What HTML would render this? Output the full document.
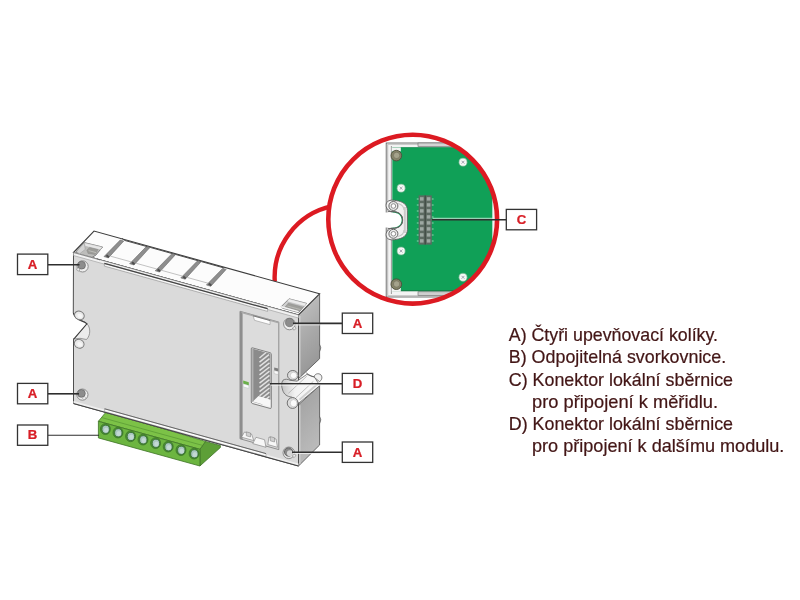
<!DOCTYPE html>
<html><head><meta charset="utf-8">
<style>
html,body{margin:0;padding:0;background:#fff;}
body{width:800px;height:600px;overflow:hidden;position:relative;font-family:"Liberation Sans",sans-serif;}
svg{position:absolute;left:0;top:0;filter:blur(0.4px);}
text{font-family:"Liberation Sans",sans-serif;}
</style></head><body>
<svg width="800" height="600" viewBox="0 0 800 600">
<defs>
<linearGradient id="side" x1="0" y1="0" x2="1" y2="0">
<stop offset="0" stop-color="#b9b9b9"/><stop offset="1" stop-color="#a6a6a6"/>
</linearGradient>
<clipPath id="cc"><circle cx="412.7" cy="219.2" r="83"/></clipPath>
<linearGradient id="sideU" x1="0" y1="0" x2="0.25" y2="1"><stop offset="0" stop-color="#c6c6c6"/><stop offset="0.5" stop-color="#acacac"/><stop offset="1" stop-color="#979797"/></linearGradient>
<linearGradient id="sideL" x1="0" y1="0" x2="0.3" y2="1"><stop offset="0" stop-color="#9f9f9f"/><stop offset="1" stop-color="#bcbcbc"/></linearGradient>
<linearGradient id="cyl" x1="0" y1="0" x2="1" y2="0"><stop offset="0" stop-color="#c4c4c4"/><stop offset="0.35" stop-color="#f2f2f2"/><stop offset="1" stop-color="#fbfbfb"/></linearGradient>
</defs>
<rect width="800" height="600" fill="#fff"/>

<!-- red connector arc -->
<path d="M274.75,281.6 A72.9,72.9 0 0 1 332,206.2" fill="none" stroke="#dc1a22" stroke-width="4.4"/>

<!-- GREEN TERMINAL BLOCK -->
<g stroke="#3f7427" stroke-width="0.8" stroke-linejoin="round">
<polygon points="199.9,466 220.4,447.5 220.4,445.5 205.5,441.4 199.9,449.3" fill="#5d9f37"/>
<polygon points="104.9,411 104.9,413.4 98.4,421.3 199.9,449.3 205.5,441.4" fill="#7cc247"/>
<polygon points="98.4,421.3 199.9,449.3 199.9,466 98.4,437.9" fill="#6cb540"/>
</g>
<path d="M101.5,417.5 L202.5,445.4" stroke="#5a9a35" stroke-width="0.8" fill="none"/>
<g id="holes">
<ellipse cx="105.4" cy="429.1" rx="5" ry="5.4" fill="#4f9436" stroke="#3a6f26" stroke-width="0.7"/>
<ellipse cx="105.7" cy="429.3" rx="3.7" ry="4.1" fill="#a9c6c0" stroke="#2f6a2a" stroke-width="0.8"/>
<ellipse cx="106.2" cy="429.9" rx="2.2" ry="2.5" fill="#c3d8d4"/>
<ellipse cx="118.0" cy="432.6" rx="5" ry="5.4" fill="#4f9436" stroke="#3a6f26" stroke-width="0.7"/>
<ellipse cx="118.3" cy="432.8" rx="3.7" ry="4.1" fill="#a9c6c0" stroke="#2f6a2a" stroke-width="0.8"/>
<ellipse cx="118.8" cy="433.4" rx="2.2" ry="2.5" fill="#c3d8d4"/>
<ellipse cx="130.6" cy="436.3" rx="5" ry="5.4" fill="#4f9436" stroke="#3a6f26" stroke-width="0.7"/>
<ellipse cx="130.9" cy="436.5" rx="3.7" ry="4.1" fill="#a9c6c0" stroke="#2f6a2a" stroke-width="0.8"/>
<ellipse cx="131.4" cy="437.1" rx="2.2" ry="2.5" fill="#c3d8d4"/>
<ellipse cx="143.0" cy="439.6" rx="5" ry="5.4" fill="#4f9436" stroke="#3a6f26" stroke-width="0.7"/>
<ellipse cx="143.3" cy="439.8" rx="3.7" ry="4.1" fill="#a9c6c0" stroke="#2f6a2a" stroke-width="0.8"/>
<ellipse cx="143.8" cy="440.4" rx="2.2" ry="2.5" fill="#c3d8d4"/>
<ellipse cx="155.6" cy="443.1" rx="5" ry="5.4" fill="#4f9436" stroke="#3a6f26" stroke-width="0.7"/>
<ellipse cx="155.9" cy="443.3" rx="3.7" ry="4.1" fill="#a9c6c0" stroke="#2f6a2a" stroke-width="0.8"/>
<ellipse cx="156.4" cy="443.9" rx="2.2" ry="2.5" fill="#c3d8d4"/>
<ellipse cx="168.2" cy="446.6" rx="5" ry="5.4" fill="#4f9436" stroke="#3a6f26" stroke-width="0.7"/>
<ellipse cx="168.5" cy="446.8" rx="3.7" ry="4.1" fill="#a9c6c0" stroke="#2f6a2a" stroke-width="0.8"/>
<ellipse cx="169.0" cy="447.4" rx="2.2" ry="2.5" fill="#c3d8d4"/>
<ellipse cx="181.0" cy="450.1" rx="5" ry="5.4" fill="#4f9436" stroke="#3a6f26" stroke-width="0.7"/>
<ellipse cx="181.3" cy="450.3" rx="3.7" ry="4.1" fill="#a9c6c0" stroke="#2f6a2a" stroke-width="0.8"/>
<ellipse cx="181.8" cy="450.9" rx="2.2" ry="2.5" fill="#c3d8d4"/>
<ellipse cx="194.1" cy="453.6" rx="5" ry="5.4" fill="#4f9436" stroke="#3a6f26" stroke-width="0.7"/>
<ellipse cx="194.4" cy="453.8" rx="3.7" ry="4.1" fill="#a9c6c0" stroke="#2f6a2a" stroke-width="0.8"/>
<ellipse cx="194.9" cy="454.4" rx="2.2" ry="2.5" fill="#c3d8d4"/>
</g>

<!-- DEVICE BODY -->
<!-- side face -->
<polygon points="298.5,315 319.6,293.8 319.6,358.7 298.5,378.7" fill="url(#sideU)" stroke="#5a5a5a" stroke-width="0.9" stroke-linejoin="round"/>
<polygon points="298.5,404.7 319.6,385.7 319.6,445 298.5,466" fill="url(#sideL)" stroke="#5a5a5a" stroke-width="0.9" stroke-linejoin="round"/>
<path d="M299.8,316 L299.8,376.8" stroke="#cdcdcd" stroke-width="1.4" fill="none"/>
<path d="M299.8,405.2 L299.8,464" stroke="#cdcdcd" stroke-width="1.4" fill="none"/>
<!-- top face -->
<polygon points="73.5,252.5 94,231 319.5,293.8 298.5,315" fill="#fcfcfc" stroke="#3c3c3c" stroke-width="1.1"/>
<!-- front face -->
<path d="M73.5,252.5 L298.5,315 L298.5,466 L73.5,403.5 L73.5,339 L86.9,323.8 C84,320 76,322 73.3,313 Z" fill="#dadada" stroke="#4f4f4f" stroke-width="1"/>

<!-- front rim strip -->
<polygon points="73.5,252.5 298.5,315 298.5,318 73.5,255.5" fill="#f2f2f2" stroke="#8a8a8a" stroke-width="0.5"/>
<!-- top face grooves -->
<g fill="#8e8e8e" stroke="#5a5a5a" stroke-width="0.5" stroke-linejoin="round">
<polygon points="104.0,256.6 120.2,240.0 123.8,241.0 108.4,257.9"/>
<polygon points="105.6,256.0 107.2,254.4 109.4,256.4 108.4,257.9" fill="#4e4e4e" stroke="none"/>
<polygon points="129.6,263.7 145.8,247.1 149.4,248.1 134.0,265.0"/>
<polygon points="131.2,263.1 132.8,261.5 135.0,263.5 134.0,265.0" fill="#4e4e4e" stroke="none"/>
<polygon points="155.2,270.8 171.4,254.2 175.0,255.2 159.6,272.1"/>
<polygon points="156.8,270.2 158.4,268.6 160.6,270.6 159.6,272.1" fill="#4e4e4e" stroke="none"/>
<polygon points="180.8,277.9 197.0,261.3 200.6,262.3 185.2,279.2"/>
<polygon points="182.4,277.3 184.0,275.7 186.2,277.7 185.2,279.2" fill="#4e4e4e" stroke="none"/>
<polygon points="206.4,285.0 222.6,268.4 226.2,269.4 210.8,286.3"/>
<polygon points="208.0,284.4 209.6,282.8 211.8,284.8 210.8,286.3" fill="#4e4e4e" stroke="none"/>
</g>
<g stroke="#9a9a9a" stroke-width="0.6" fill="none"><path d="M110.6,256.2 L131.2,261.9" />
<path d="M136.2,263.3 L156.8,269.0" />
<path d="M161.8,270.4 L182.4,276.1" />
<path d="M187.4,277.5 L208.0,283.2" /></g>
<!-- raised tab back edges -->
<g fill="none" stroke="#4a4a4a" stroke-width="1">
<path d="M122,238.3 L124.6,240.4 L147.4,246.7 L150.2,247.4 L173,253.8 L175.8,254.5 L198.6,260.9 L201.4,261.6 L224.2,268"/>
</g>
<!-- TL corner cutout -->
<polygon points="76.4,251.2 84.4,242.6 102.6,247 95.8,255.2 92,257.4 77,253.4" fill="#bdbdbb" stroke="#5f5f5f" stroke-width="0.7" stroke-linejoin="round"/>
<polygon points="76.6,251.4 84.4,242.8 85.2,249.4 79.4,254" fill="#d4d4d4" stroke="#8c8c8c" stroke-width="0.4"/>
<polygon points="84.4,242.8 102.4,247.1 100.2,249.8 85.2,246.2" fill="#e6e6e6" stroke="#9a9a9a" stroke-width="0.3"/>
<polygon points="86.8,250 89.6,247.4 98,249.6 95.2,254.6 88,253.4" fill="#9c9c98" stroke="#858585" stroke-width="0.4"/>
<path d="M88.6,250.6 L96,252.6" stroke="#c6c6c2" stroke-width="0.8"/>
<path d="M74,252.9 L97,259.3" stroke="#f7f7f7" stroke-width="1.3"/>
<path d="M73.5,252.5 L100,259.86" stroke="#5a5a5a" stroke-width="0.7"/>
<!-- TR corner cutout -->
<polygon points="281,306.8 289,298.8 306.6,303.4 298.6,312.6 282.6,308.2" fill="#d0d0d0" stroke="#666" stroke-width="0.7" stroke-linejoin="round"/>
<polygon points="289,298.8 306.6,303.4 304.4,306.2 287,301.6" fill="#ececec" stroke="#999" stroke-width="0.3"/>
<polygon points="285,307 288.4,303 303,307 299.2,311.2" fill="#9e9e9a" stroke="#888" stroke-width="0.4"/>
<path d="M287.5,306 L300.5,309.6" stroke="#c0c0bc" stroke-width="0.8"/>
<path d="M281,306.8 L298.5,311.6" stroke="#f4f4f4" stroke-width="1.4"/>
<!-- long slot on front face -->
<polygon points="104.4,263.4 267.6,308.7 267.6,311.4 104.4,266.1" fill="#f6f6f6" stroke="#8a8a8a" stroke-width="0.6"/>
<path d="M104.4,263.4 L267.6,308.7" stroke="#444" stroke-width="1.2" fill="none"/>
<!-- bottom rim -->
<polygon points="73.5,403.5 298.5,466 298.5,463.6 73.5,401.1" fill="#efefef"/>
<polygon points="104.6,408.8 266,453.6 266,456.4 104.6,411.6" fill="#fbfbfb" stroke="#8c8c8c" stroke-width="0.5"/>
<path d="M104.6,408.8 L266,453.6" stroke="#5c5c5c" stroke-width="0.9" fill="none"/>
<path d="M73.5,403.5 L298.5,466" stroke="#444" stroke-width="1.2" fill="none"/>

<!-- left notch details -->
<path d="M86.9,323.8 C90.5,327 91,335 86.5,339.5 L80,338.3 L73.8,339 Z" fill="#ececec" stroke="#777" stroke-width="0.7"/>
<path d="M73.3,313 C76,322 84,320 86.9,323.8 L74,338.8" fill="#ffffff" stroke="#3e3e3e" stroke-width="1.1"/>
<ellipse cx="79.4" cy="315.4" rx="5" ry="4.2" transform="rotate(25 79.4 315.4)" fill="#e9e9e9" stroke="#777" stroke-width="0.9"/>
<ellipse cx="79.2" cy="343.8" rx="5" ry="4.3" transform="rotate(25 79.2 343.8)" fill="#e9e9e9" stroke="#777" stroke-width="0.9"/>
<ellipse cx="79.9" cy="315.9" rx="2.6" ry="2" transform="rotate(25 79.9 315.9)" fill="#f6f6f6"/>
<ellipse cx="79.7" cy="344.3" rx="2.6" ry="2.1" transform="rotate(25 79.7 344.3)" fill="#f6f6f6"/>

<!-- connector panel -->
<polygon points="240,311.3 278.8,322.1 278.8,449.6 240,438.8" fill="#dcdcdc" stroke="#7b7b7b" stroke-width="0.8"/>
<polygon points="240,311.3 242.6,312 242.6,439.5 240,438.8" fill="#8e8e8e"/>
<polygon points="240,311.3 278.8,322.1 278.8,323.5 242.6,313.4" fill="#a9a9a9"/>
<!-- white slot at top of panel -->
<polygon points="253.2,315.8 270,320.5 270,324.6 254.5,320.3" fill="#fdfdfd" stroke="#8a8a8a" stroke-width="0.5"/>
<path d="M253.2,315.8 L270,320.5" stroke="#6a6a6a" stroke-width="0.8"/>
<!-- D connector -->
<path d="M252.3,347.8 L270.3,352.8 Q271.3,353.2 271.3,354.2 L271.3,407.4 Q271.2,408.8 270,408.4 L252.3,403.5 Q251.3,403.2 251.3,402 L251.3,348.8 Q251.3,347.6 252.3,347.8 Z" fill="#f1f1f1" stroke="#666" stroke-width="0.8"/>
<polygon points="252.1,348.6 270.5,353.7 270.5,399.6 262,404.5 252.1,401.6" fill="#8b8b8b"/>
<polygon points="252.1,348.6 253.4,349 253.4,400 252.1,401.6" fill="#b5b5b5"/>
<g stroke="#e2e2e2" stroke-width="1.5" fill="none">
<path d="M259.5,358 L266,352.5"/><path d="M259.5,362.2 L269,354.6"/><path d="M259.5,366.4 L269.5,358.6"/>
<path d="M259.5,370.6 L269.5,362.8"/><path d="M259.5,374.8 L269.5,367"/><path d="M259.5,379 L269.5,371.2"/>
<path d="M259.5,383.2 L269.5,375.4"/><path d="M259.5,387.4 L269.5,379.6"/><path d="M259.5,391.6 L269.5,383.8"/>
<path d="M259.5,395.8 L269.5,388"/><path d="M260,399.6 L269.5,392.2"/><path d="M264,400.8 L269.5,396.4"/>
</g>
<polygon points="252.8,401.5 258.5,396 269.9,399.5 269.9,406.5" fill="#f7f7f7"/>
<!-- LED -->
<polygon points="243.2,380.6 248.8,382.2 248.8,385.4 243.2,383.8" fill="#6bb04a"/>
<polygon points="243.2,383.8 248.8,385.4 248.8,388.4 243.2,386.8" fill="#fbfbfb" stroke="#9aa" stroke-width="0.3"/>
<!-- small rect -->
<polygon points="274.2,367.5 278.2,368.6 278.2,371.6 274.2,370.5" fill="#7d7d7d"/>
<polygon points="274.2,370.5 278.2,371.6 278.2,374.6 274.2,373.5" fill="#fafafa" stroke="#999" stroke-width="0.3"/>
<!-- bottom tabs -->
<g fill="#f7f7f7" stroke="#7a7a7a" stroke-width="0.6" stroke-linejoin="round">
<polygon points="244.5,432 251.5,434 253.8,440.6 241.5,437.2"/>
<polygon points="256,437.3 264.5,439.7 266,447.3 252.8,443.6"/>
<polygon points="269,437 276,439 277.5,447.3 267.8,444.6"/>
</g>
<g fill="#cfcfcf" stroke="#7a7a7a" stroke-width="0.5">
<polygon points="246.3,431.8 250.5,433 250.5,437 246.3,435.8"/>
<polygon points="270.3,436.6 274.5,437.8 274.5,442 270.3,440.8"/>
</g>

<!-- screws -->
<g id="screws">
<g>
<circle cx="82.6" cy="266.4" r="5.6" fill="#eeeeee" stroke="#777" stroke-width="0.8"/>
<circle cx="81.6" cy="265.2" r="3.9" fill="#8d8d8d" stroke="#5e5e5e" stroke-width="0.6"/>
<path d="M77.6,267.4 l-1,2.6 l2,1.2 l1.4,-2.2 z" fill="#ececec" stroke="#777" stroke-width="0.5"/>
</g>
<g>
<circle cx="82.4" cy="394.6" r="5.6" fill="#eeeeee" stroke="#777" stroke-width="0.8"/>
<circle cx="81.4" cy="393.4" r="3.9" fill="#8d8d8d" stroke="#5e5e5e" stroke-width="0.6"/>
<path d="M84.5,396.4 l1.4,2 l-2,1.4 l-1.6,-1.8 z" fill="#f4f4f4" stroke="#888" stroke-width="0.5"/>
</g>
<g>
<circle cx="289.4" cy="324" r="5.8" fill="#eeeeee" stroke="#777" stroke-width="0.8"/>
<circle cx="289.6" cy="322.6" r="4.1" fill="#8d8d8d" stroke="#5e5e5e" stroke-width="0.6"/>
<path d="M292.6,327.8 l2.2,-1.4 l1.2,2.2 l-2.2,1.6 z" fill="#ececec" stroke="#777" stroke-width="0.5"/>
</g>
<g>
<circle cx="288.8" cy="452.8" r="5.8" fill="#e6e6e6" stroke="#777" stroke-width="0.8"/>
<circle cx="288.6" cy="452" r="4.2" fill="#8a8a8a" stroke="#4e4e4e" stroke-width="0.7"/>
<circle cx="289.8" cy="453.2" r="2.9" fill="#d6d6d6"/>
<path d="M292.5,455.5 l2.4,-1.6 l1,2 l-2.2,1.8 z" fill="#ececec" stroke="#777" stroke-width="0.5"/>
</g>
</g>

<!-- side face V-notch + cylinder bracket -->
<path d="M319.6,344.5 q2.4,3.2 0,7" fill="#a8a8a8" stroke="#555" stroke-width="0.7"/>
<path d="M319.6,416.5 q2.4,3.2 0,7" fill="#a8a8a8" stroke="#555" stroke-width="0.7"/>
<!-- saddle / cylinder -->
<path d="M283,380.2 C285,378.6 288,379.2 290,380.3 L297,381.2 L306.8,374.4 L314.4,377 L319.8,385.6 L298.7,403.2 C296,399.5 293,397.5 291.7,397.1 C287,396.5 284,394.5 282.6,390 C281.2,386 281.3,382.4 283,380.2 Z" fill="url(#cyl)" stroke="#666" stroke-width="0.8" stroke-linejoin="round"/>
<path d="M288.4,393.3 L306.8,376.2" stroke="#9c9c9c" stroke-width="0.6" fill="none"/>
<path d="M296,397.7 L313.3,381.4" stroke="#9c9c9c" stroke-width="0.6" fill="none"/>
<path d="M299.5,399.8 L318.6,383" stroke="#d0d0d0" stroke-width="2" fill="none"/>
<!-- end pin -->
<path d="M314.4,377.4 C313.6,374 318.8,372.4 321,375 C322.8,377.4 321.6,380.6 319.4,381.6 Z" fill="#f2f2f2" stroke="#5f5f5f" stroke-width="0.8"/>
<path d="M306.2,372.8 C309,374.6 311,377 314.2,376.8" stroke="#4f4f4f" stroke-width="0.7" fill="none"/>
<!-- mount holes -->
<ellipse cx="292.8" cy="375.3" rx="5.3" ry="4.8" fill="#dcdcdc" stroke="#666" stroke-width="0.9"/>
<ellipse cx="293.6" cy="375.4" rx="3.3" ry="3.2" fill="#fafafa" stroke="#b0b0b0" stroke-width="0.5"/>
<ellipse cx="292.6" cy="403" rx="5.4" ry="5.4" fill="#dcdcdc" stroke="#666" stroke-width="0.9"/>
<ellipse cx="293.6" cy="403.2" rx="3.4" ry="3.6" fill="#fafafa" stroke="#b0b0b0" stroke-width="0.5"/>

<!-- label lines -->
<g stroke="#2e2e2e" stroke-width="1.6" fill="none">
<path d="M47.8,264.7 L79.5,264.7"/>
<path d="M47.8,393.8 L79,393.8"/>
<path d="M293,323.4 L342.4,323.4"/>
<path d="M270,383.7 L342.4,383.7"/>
<path d="M292,452.3 L342.4,452.3"/>
</g>
<path d="M47.8,435.3 L99,435.3" stroke="#2e2e2e" stroke-width="1.1" fill="none"/>
<g stroke="#f4f4f4" stroke-width="0.8" fill="none">
<path d="M293.5,324.9 L320,324.9"/>
<path d="M271,385.2 L320,385.2"/>
<path d="M293.5,453.5 L320,453.5"/>
</g>

<!-- RED CIRCLE INSET -->
<circle cx="412.7" cy="219.2" r="84.4" fill="#ffffff"/>
<g clip-path="url(#cc)">
<!-- frame -->
<rect x="386.2" y="143" width="114" height="154" fill="#f3f3f3" stroke="#666" stroke-width="0.9"/>
<path d="M387.6,144.4 L500,144.4 M387.6,295.6 L500,295.6" stroke="#b5b5b5" stroke-width="0.7" fill="none"/>
<path d="M387.7,144.4 L387.7,295.6" stroke="#a9a9a9" stroke-width="0.8" fill="none"/>
<path d="M391.4,146 L391.4,294" stroke="#8f8f8f" stroke-width="0.9" fill="none"/>
<!-- top and bottom tabs of frame -->
<rect x="418" y="143" width="82" height="3.6" fill="#d4d4d4" stroke="#6a6a6a" stroke-width="0.6"/>
<rect x="418" y="291.8" width="82" height="3.8" fill="#cfcfcf" stroke="#6a6a6a" stroke-width="0.6"/>
<!-- PCB -->
<rect x="392.3" y="147.4" width="100" height="143.5" fill="#10a057"/>
<path d="M392.3,290.8 L492.3,290.8" stroke="#0a6e3a" stroke-width="0.9" fill="none"/>
<path d="M392.3,147.6 L492.3,147.6" stroke="#0c8045" stroke-width="0.6" fill="none"/>
<!-- notch block (white plastic, omega shape) -->
<path d="M386.2,204 C387,200 392,199.6 396,200.6 C403,201.4 407.4,204.5 407.4,210.5 L407.4,229.5 C407.4,235.5 403,238.6 396,239.4 C392,240.4 387,240 386.2,236 C385.6,232 388,229 392,228.4 L395,228.2 C400,227.6 402.6,224.4 402.6,220 C402.6,215.6 400,212.4 395,211.8 L392,211.6 C388,211 385.6,208 386.2,204 Z" fill="#f1f1f1" stroke="#5f5f5f" stroke-width="0.9"/>
<path d="M386.4,212.4 L392,212.4 C399,212.4 401.6,216 401.6,220 C401.6,224 399,227.6 392,227.6 L386.4,227.6 L384,227.6 L384,212.4 Z" fill="#ffffff" stroke="none"/>
<path d="M388,211.4 L394.6,211.8 C400,212.4 402.6,215.6 402.6,220 C402.6,224.4 400,227.6 394.6,228.2 L388,228.6" fill="none" stroke="#5f5f5f" stroke-width="0.9"/>
<path d="M404.8,207 L404.8,233" stroke="#cbcbcb" stroke-width="2" fill="none"/>
<path d="M398,203.5 C402,204.6 404,207 404,210" stroke="#c6c6c6" stroke-width="1.2" fill="none"/>
<path d="M398,236.5 C402,235.4 404,233 404,230" stroke="#c6c6c6" stroke-width="1.2" fill="none"/>
<circle cx="393.4" cy="206" r="4.5" fill="#ececec" stroke="#666" stroke-width="1"/>
<circle cx="393.4" cy="206" r="2.3" fill="#fdfdfd" stroke="#777" stroke-width="0.8"/>
<circle cx="393.4" cy="233.8" r="4.5" fill="#ececec" stroke="#666" stroke-width="1"/>
<circle cx="393.4" cy="233.8" r="2.3" fill="#fdfdfd" stroke="#777" stroke-width="0.8"/>
<!-- brass screws -->
<g>
<rect x="391.8" y="147.4" width="9" height="4" fill="#f4f4f4"/>
<rect x="391.8" y="288" width="9" height="3.6" fill="#f4f4f4"/>
<circle cx="396.3" cy="155.6" r="5.3" fill="#86846a" stroke="#4e4e3c" stroke-width="0.9"/>
<circle cx="396.6" cy="155.4" r="3.2" fill="#a5a38c" stroke="#6e6c58" stroke-width="0.6"/>
<circle cx="396.3" cy="284.2" r="5.3" fill="#86846a" stroke="#4e4e3c" stroke-width="0.9"/>
<circle cx="396.6" cy="284" r="3.2" fill="#a5a38c" stroke="#6e6c58" stroke-width="0.6"/>
</g>
<!-- white screws -->
<g fill="#f4f8f5" stroke="#5fae83" stroke-width="0.7">
<circle cx="463" cy="162.2" r="4.1"/><circle cx="401.1" cy="188.2" r="4.1"/>
<circle cx="401.1" cy="251" r="4.1"/><circle cx="463" cy="277.3" r="4.1"/>
</g>
<g stroke="#9a9aa8" stroke-width="0.9" fill="none">
<path d="M461.6,160.8 l2.8,2.8 M464.4,160.8 l-2.8,2.8"/>
<path d="M399.7,186.8 l2.8,2.8 M402.5,186.8 l-2.8,2.8"/>
<path d="M399.7,249.6 l2.8,2.8 M402.5,249.6 l-2.8,2.8"/>
<path d="M461.6,275.9 l2.8,2.8 M464.4,275.9 l-2.8,2.8"/>
</g>
<!-- pin header -->
<rect x="418.6" y="195.4" width="13.2" height="49.2" fill="#5d6b62"/>
<path d="M425.2,195.4 L425.2,244.6" stroke="#3c4640" stroke-width="1.1"/>
<g fill="#9da8a2">
<rect x="420" y="197.2" width="3.6" height="3.4"/><rect x="426.8" y="197.2" width="3.6" height="3.4"/>
<rect x="420" y="203.2" width="3.6" height="3.4"/><rect x="426.8" y="203.2" width="3.6" height="3.4"/>
<rect x="420" y="209.2" width="3.6" height="3.4"/><rect x="426.8" y="209.2" width="3.6" height="3.4"/>
<rect x="420" y="215.2" width="3.6" height="3.4"/><rect x="426.8" y="215.2" width="3.6" height="3.4"/>
<rect x="420" y="221.2" width="3.6" height="3.4"/><rect x="426.8" y="221.2" width="3.6" height="3.4"/>
<rect x="420" y="227.2" width="3.6" height="3.4"/><rect x="426.8" y="227.2" width="3.6" height="3.4"/>
<rect x="420" y="233.2" width="3.6" height="3.4"/><rect x="426.8" y="233.2" width="3.6" height="3.4"/>
<rect x="420" y="239.2" width="3.6" height="3.4"/><rect x="426.8" y="239.2" width="3.6" height="3.4"/>
</g>
<g stroke="#cfe6d8" stroke-width="0.7" fill="none">
<path d="M416.8,199.0 h1.8 M431.8,199.0 h1.8"/>
<path d="M416.8,205.0 h1.8 M431.8,205.0 h1.8"/>
<path d="M416.8,211.0 h1.8 M431.8,211.0 h1.8"/>
<path d="M416.8,217.0 h1.8 M431.8,217.0 h1.8"/>
<path d="M416.8,223.0 h1.8 M431.8,223.0 h1.8"/>
<path d="M416.8,229.0 h1.8 M431.8,229.0 h1.8"/>
<path d="M416.8,235.0 h1.8 M431.8,235.0 h1.8"/>
<path d="M416.8,241.0 h1.8 M431.8,241.0 h1.8"/>
</g>
</g>
<circle cx="412.7" cy="219.2" r="84.4" fill="none" stroke="#dc1a22" stroke-width="4.6"/>
<!-- C line -->
<path d="M432,219.7 L506.4,219.7" stroke="#2e2e2e" stroke-width="1.6" fill="none"/>
<path d="M432.6,218.3 L494,218.3" stroke="#e4f1e8" stroke-width="0.8" fill="none"/>

<!-- label boxes -->
<g fill="#ffffff" stroke="#333" stroke-width="1.3">
<rect x="17.5" y="254.1" width="30.3" height="20.5"/>
<rect x="17.5" y="383.4" width="30.3" height="20.4"/>
<rect x="17.5" y="425.0" width="30.3" height="20.3"/>
<rect x="342.3" y="313.1" width="30.4" height="20.4"/>
<rect x="342.3" y="373.4" width="30.4" height="20.5"/>
<rect x="342.3" y="442.0" width="30.4" height="20.4"/>
<rect x="506.3" y="209.4" width="30.3" height="20.4"/>
</g>
<g font-size="12" font-weight="bold" fill="#d81e26" stroke="#d81e26" stroke-width="0.25" text-anchor="middle">
<text transform="translate(32.6 268.7) scale(1.1 1)" x="0" y="0">A</text>
<text transform="translate(32.6 397.9) scale(1.1 1)" x="0" y="0">A</text>
<text transform="translate(32.6 439.4) scale(1.1 1)" x="0" y="0">B</text>
<text transform="translate(357.5 327.6) scale(1.1 1)" x="0" y="0">A</text>
<text transform="translate(357.5 387.9) scale(1.1 1)" x="0" y="0">D</text>
<text transform="translate(357.5 456.5) scale(1.1 1)" x="0" y="0">A</text>
<text transform="translate(521.5 223.9) scale(1.1 1)" x="0" y="0">C</text>
</g>

<!-- legend text -->
<g font-size="18.2" fill="#431616" stroke="#431616" stroke-width="0.22" id="legend">
<text x="508.8" y="341.4" textLength="209.2" lengthAdjust="spacingAndGlyphs">A) Čtyři upevňovací kolíky.</text>
<text x="508.8" y="363.4" textLength="217.4" lengthAdjust="spacingAndGlyphs">B) Odpojitelná svorkovnice.</text>
<text x="508.8" y="385.6" textLength="224.2" lengthAdjust="spacingAndGlyphs">C) Konektor lokální sběrnice</text>
<text x="532" y="407.8" textLength="186" lengthAdjust="spacingAndGlyphs">pro připojení k měřidlu.</text>
<text x="508.8" y="429.8" textLength="224.2" lengthAdjust="spacingAndGlyphs">D) Konektor lokální sběrnice</text>
<text x="532" y="451.8" textLength="252.4" lengthAdjust="spacingAndGlyphs">pro připojení k dalšímu modulu.</text>
</g>
</svg>
</body></html>
